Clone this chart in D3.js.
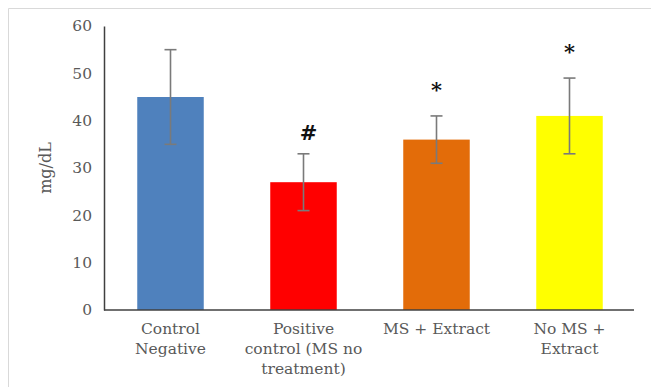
<!DOCTYPE html>
<html><head><meta charset="utf-8">
<script src="https://cdn.jsdelivr.net/npm/d3@7"></script>
<style>body{margin:0;background:#fff}svg{display:block}</style>
</head><body>
<script>
const categories = [["Control","Negative"],["Positive","control (MS no","treatment)"],["MS + Extract"],["No MS +","Extract"]];
const values = [45, 27, 36, 41];
const errors = [10, 6, 5, 8];
const marks = ["", "#", "*", "*"];
const colors = ["#4f81bd", "#ff0000", "#e36c09", "#ffff00"];
const yTicks = [0, 10, 20, 30, 40, 50, 60];

const W = 651, H = 387;
const svg = d3.select("body").append("svg").attr("width", W).attr("height", H);
svg.append("path").attr("d", "M8.5,387V8.5H651").attr("fill","none").attr("stroke","#d9d9d9").attr("stroke-width",1);

const x = d3.scaleBand().domain(d3.range(values.length)).range([104, 636]).paddingInner(0.5).paddingOuter(0.25);
const y = d3.scaleLinear().domain([0, 60]).range([310, 26]);
const font = "'DejaVu Serif', serif";

// bars
svg.selectAll("rect.bar").data(values).join("rect")
  .attr("x", (d,i) => x(i)).attr("width", x.bandwidth())
  .attr("y", d => y(d)).attr("height", d => y(0) - y(d))
  .attr("fill", (d,i) => colors[i]);

// error bars
const eg = svg.append("g").attr("stroke", "#7a7a7a").attr("stroke-width", 1.6);
values.forEach((v,i) => {
  const cx = x(i) + x.bandwidth()/2;
  eg.append("line").attr("x1", cx).attr("x2", cx).attr("y1", y(v+errors[i])).attr("y2", y(v-errors[i]));
  [v+errors[i], v-errors[i]].forEach(e => eg.append("line").attr("x1", cx-6).attr("x2", cx+6).attr("y1", y(e)).attr("y2", y(e)));
});

// y axis
const yAxis = svg.append("g").attr("transform", "translate(104,0)")
  .call(d3.axisLeft(y).tickValues(yTicks).tickSize(0).tickPadding(12));
yAxis.select(".domain").attr("stroke", "#404040").attr("stroke-width", 1.5);
yAxis.selectAll("text").attr("font-family", font).attr("font-size", 15.5).attr("fill", "#595959");

// x axis line
svg.append("line").attr("x1", 104).attr("x2", 634).attr("y1", y(0)).attr("y2", y(0)).attr("stroke", "#404040").attr("stroke-width", 1.5);

// category labels
categories.forEach((lines,i) => {
  const t = svg.append("text").attr("text-anchor","middle").attr("font-family", font).attr("font-size", 15.5).attr("fill","#595959");
  lines.forEach((l,j) => t.append("tspan").attr("x", x(i)+x.bandwidth()/2).attr("y", 334 + j*20).text(l));
});

// significance marks
marks.forEach((m,i) => {
  if (!m) return;
  const cx = x(i) + x.bandwidth()/2 + (m === "#" ? 5 : 0);
  svg.append("text").attr("x", cx).attr("y", y(values[i]+errors[i]) - (m === "#" ? 14 : 19))
    .attr("text-anchor","middle").attr("font-family", font).attr("font-weight", "bold").attr("font-size", 21).attr("fill","#111").text(m);
});

// y label
svg.append("text").attr("transform", `translate(51,${(y(0)+y(60))/2}) rotate(-90)`)
  .attr("text-anchor","middle").attr("font-family", font).attr("font-size", 16).attr("fill","#595959").text("mg/dL");
</script>
</body></html>
